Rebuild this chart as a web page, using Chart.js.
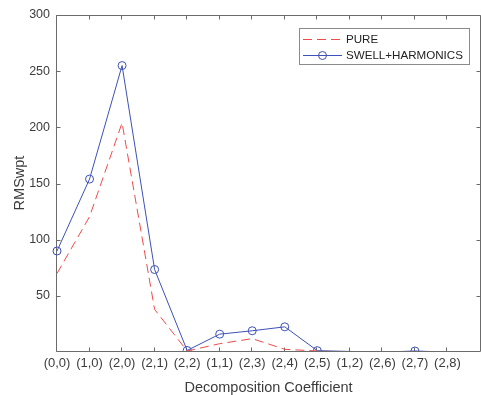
<!DOCTYPE html>
<html>
<head>
<meta charset="utf-8">
<title>RMSwpt per coefficient</title>
<script src="https://cdn.jsdelivr.net/npm/chart.js@4.4.0/dist/chart.umd.min.js"></script>
<style>
    html, body { margin: 0; padding: 0; background: #fff; overflow: hidden; }
    #wrap { width: 485px; height: 395px; }
</style>
</head>
<body>
<div id="wrap"><canvas id="rmsChart" width="485" height="395"></canvas></div>
<script>
// Decomposition coefficients (node labels on the x axis)
const coefficients = ['(0,0)', '(1,0)', '(2,0)', '(2,1)', '(2,2)', '(1,1)', '(2,3)', '(2,4)', '(2,5)', '(1,2)', '(2,6)', '(2,7)', '(2,8)'];

// RMS values of the wavelet packet coefficients
const pureValues = [70, 120.5, 204, 38, 1, 7.5, 12, 2.5, 1, 0, 0, 0, 0];
const swellHarmonicsValues = [90, 154, 255, 73.5, 1.5, 16, 19, 22.5, 1.3, 0.6, 0, 1, 0];

const yTicks = [50, 100, 150, 200, 250, 300];
const Y_MIN = 1;
const Y_MAX = 300;

const BLUE = '#3d51b6';
const RED = '#f04a4a';
const AXIS = '#6b6b6b';
const TEXT = '#3c3c3c';
const FONT = "'Liberation Sans', Arial, sans-serif";

function toPoints(values) {
    return values.map((v, i) => ({x: i, y: v}));
}

// box around the plot with small inward tick marks on every side
const boxPlugin = {
    id: 'box',
    beforeDatasetsDraw(chart) {
        const {ctx, chartArea: a, scales} = chart;
        const l = a.left - 0.5, r = a.right + 0.5, t = a.top + 0.5, b = a.bottom + 0.5;
        ctx.save();
        ctx.strokeStyle = AXIS;
        ctx.lineWidth = 1;
        ctx.beginPath();
        ctx.rect(l, t, r - l, b - t);
        coefficients.forEach((c, i) => {
            const x = Math.round(scales.x.getPixelForValue(i)) - 0.5;
            ctx.moveTo(x, b); ctx.lineTo(x, b - 4);
            ctx.moveTo(x, t); ctx.lineTo(x, t + 4);
        });
        yTicks.forEach(v => {
            const y = Math.round(scales.y.getPixelForValue(v)) + 0.5;
            ctx.moveTo(l, y); ctx.lineTo(l + 4, y);
            ctx.moveTo(r, y); ctx.lineTo(r - 4, y);
        });
        ctx.stroke();
        ctx.restore();
    }
};

// legend box in the upper right of the plot
const legendPlugin = {
    id: 'boxLegend',
    afterDraw(chart) {
        const ctx = chart.ctx;
        const x0 = 299.5, y0 = 28.5, w = 170, h = 36;
        ctx.save();
        ctx.fillStyle = '#fff';
        ctx.fillRect(x0, y0, w, h);
        ctx.strokeStyle = '#8a8a8a';
        ctx.lineWidth = 1;
        ctx.strokeRect(x0, y0, w, h);

        const items = chart.data.datasets;
        items.forEach((ds, i) => {
            const y = 39 + i * 16;
            ctx.strokeStyle = ds.borderColor;
            ctx.lineWidth = 1;
            ctx.setLineDash(ds.borderDash || []);
            ctx.beginPath();
            ctx.moveTo(303, y + 0.5);
            ctx.lineTo(342, y + 0.5);
            ctx.stroke();
            ctx.setLineDash([]);
            if (ds.pointStyle === 'circle') {
                ctx.beginPath();
                ctx.arc(322.5, y + 0.5, 4, 0, Math.PI * 2);
                ctx.stroke();
            }
            ctx.fillStyle = '#222';
            ctx.font = '11.6px ' + FONT;
            ctx.textBaseline = 'middle';
            ctx.fillText(ds.label, 346, y + 1);
        });
        ctx.restore();
    }
};

let chart = new Chart(document.getElementById('rmsChart'), {
    type: 'line',
    data: {
        datasets: [
            {
                label: 'PURE',
                data: toPoints(pureValues),
                borderColor: RED,
                borderWidth: 1,
                borderDash: [9, 5],
                pointRadius: 0,
                pointStyle: false,
                tension: 0,
                clip: {left: 10, top: 10, right: 10, bottom: 0}
            },
            {
                label: 'SWELL+HARMONICS',
                data: toPoints(swellHarmonicsValues),
                borderColor: BLUE,
                borderWidth: 1,
                pointStyle: 'circle',
                // markers below the axis limit are not shown
                pointRadius: c => (c.raw && c.raw.y < Y_MIN ? 0 : 4),
                pointBorderColor: BLUE,
                pointBackgroundColor: 'rgba(0,0,0,0)',
                pointBorderWidth: 1,
                tension: 0,
                clip: {left: 10, top: 10, right: 10, bottom: 0}
            }
        ]
    },
    options: {
        responsive: false,
        animation: false,
        layout: {padding: {top: 15, right: 3, left: 0, bottom: 0}},
        plugins: {
            legend: {display: false},
            tooltip: {enabled: false}
        },
        scales: {
            x: {
                type: 'linear',
                min: 0,
                max: coefficients.length,
                afterBuildTicks: scale => {
                    scale.ticks = coefficients.map((c, i) => ({value: i}));
                },
                afterFit: scale => { scale.height = 44; },
                grid: {display: false, drawTicks: false},
                border: {display: false},
                ticks: {
                    autoSkip: false,
                    maxRotation: 0,
                    padding: 5,
                    color: TEXT,
                    font: {family: FONT, size: 13},
                    callback: v => coefficients[v]
                },
                title: {
                    display: true,
                    text: 'Decomposition Coefficient',
                    color: TEXT,
                    font: {family: FONT, size: 14.5},
                    padding: {top: 0, bottom: -2}
                }
            },
            y: {
                min: Y_MIN,
                max: Y_MAX,
                afterBuildTicks: scale => {
                    scale.ticks = yTicks.map(v => ({value: v}));
                },
                afterFit: scale => { scale.width = 57; },
                grid: {display: false, drawTicks: false},
                border: {display: false},
                ticks: {
                    padding: 7,
                    color: TEXT,
                    font: {family: FONT, size: 12.5}
                },
                title: {
                    display: true,
                    text: 'RMSwpt',
                    color: TEXT,
                    font: {family: FONT, size: 14.5},
                    padding: {top: 11, bottom: 0}
                }
            }
        }
    },
    plugins: [boxPlugin, legendPlugin]
});
</script>
</body>
</html>
